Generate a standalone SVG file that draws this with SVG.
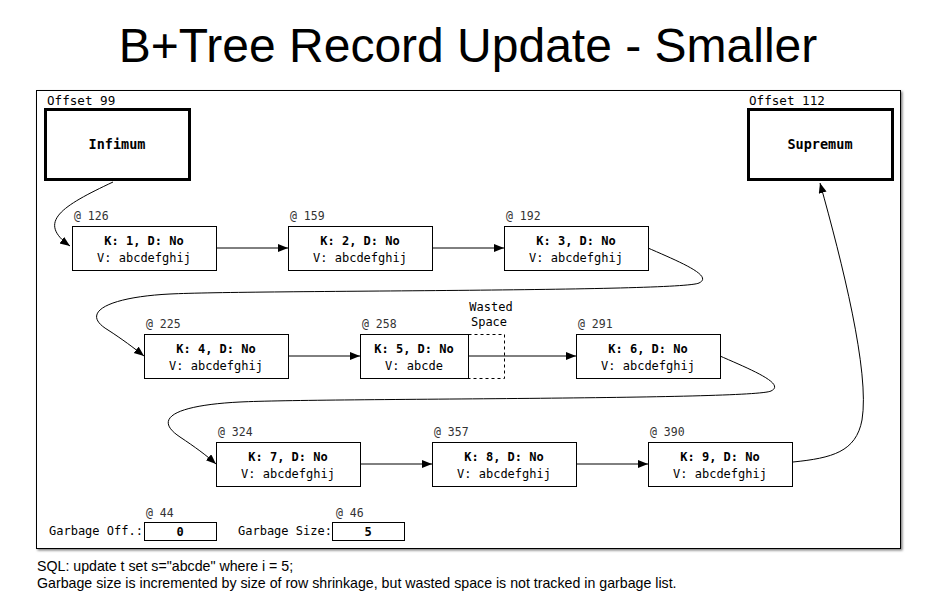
<svg xmlns="http://www.w3.org/2000/svg" width="936" height="607" viewBox="0 0 936 607">
<style>
.mono{font-family:"DejaVu Sans Mono","Liberation Mono",monospace;font-size:12px;fill:#000}
.b{font-weight:bold}
.at{font-family:"DejaVu Sans Mono","Liberation Mono",monospace;font-size:11.5px;fill:#333}
.box{fill:#fff;stroke:#000;stroke-width:1}
.thick{fill:#fff;stroke:#000;stroke-width:3}
.edge{fill:none;stroke:#000;stroke-width:1;marker-end:url(#arr)}
.sans{font-family:"Liberation Sans",Arial,Helvetica,sans-serif;fill:#000}
.big{font-size:13.5px}
.off{font-size:12.6px}
</style>
<defs>
<marker id="arr" markerUnits="userSpaceOnUse" markerWidth="12" markerHeight="10" refX="10" refY="4" orient="auto">
<path d="M0,0 L10,4 L0,8 Z" fill="#000"/>
</marker>
<filter id="sh" x="-5%" y="-5%" width="110%" height="110%">
<feDropShadow dx="1.5" dy="1.5" stdDeviation="1" flood-color="#000" flood-opacity="0.5"/>
</filter>
</defs>
<rect width="936" height="607" fill="#fff"/>
<text class="sans" x="468" y="62" font-size="48" text-anchor="middle">B+Tree Record Update - Smaller</text>
<g id="frame">
<rect x="36.5" y="90.5" width="864" height="458" fill="#fff" stroke="#000" stroke-width="1" filter="url(#sh)"/>
</g>
<g id="connectors">
<path class="edge" d="M113,182 C 62,206 36,222 70,246"/>
<path class="edge" d="M216,248 L288,248"/>
<path class="edge" d="M432,248 L504,248"/>
<path class="edge" d="M648,248 C 680,262 714,276 699,283 C 682,292 250,290 170,294 C 110,297 78,312 108,330 C 122,339 134,348 144,356"/>
<path class="edge" d="M288,356 L360,356"/>
<path class="edge" d="M469,356 L576,356"/>
<path class="edge" d="M720,356 C 752,370 786,384 771,391 C 754,400 320,398 240,402 C 180,405 150,417 180,437 C 195,447 206,455 216,464"/>
<path class="edge" d="M360,464 L432,464"/>
<path class="edge" d="M576,464 L648,464"/>
<path class="edge" d="M793,462 C 832,458 856,452 862,420 C 870,372 842,262 820,183"/>
</g>
<g id="infimum">
<text class="mono off" x="47" y="105">Offset 99</text>
<rect class="thick" x="45.5" y="109.5" width="144" height="70"/>
<text class="mono b big" x="117" y="149" text-anchor="middle">Infimum</text>
</g>
<g id="supremum">
<text class="mono off" x="749" y="105">Offset 112</text>
<rect class="thick" x="748.5" y="109.5" width="144" height="70"/>
<text class="mono b big" x="820" y="149" text-anchor="middle">Supremum</text>
</g>
<g id="r1">
<text class="at" x="74" y="220">@ 126</text>
<rect class="box" x="72.5" y="226.5" width="144" height="44"/>
<text class="mono b" x="144" y="245" text-anchor="middle">K: 1, D: No</text>
<text class="mono" x="144" y="262" text-anchor="middle">V: abcdefghij</text>
</g>
<g id="r2">
<text class="at" x="290" y="220">@ 159</text>
<rect class="box" x="288.5" y="226.5" width="144" height="44"/>
<text class="mono b" x="360" y="245" text-anchor="middle">K: 2, D: No</text>
<text class="mono" x="360" y="262" text-anchor="middle">V: abcdefghij</text>
</g>
<g id="r3">
<text class="at" x="506" y="220">@ 192</text>
<rect class="box" x="504.5" y="226.5" width="144" height="44"/>
<text class="mono b" x="576" y="245" text-anchor="middle">K: 3, D: No</text>
<text class="mono" x="576" y="262" text-anchor="middle">V: abcdefghij</text>
</g>
<g id="r4">
<text class="at" x="146" y="328">@ 225</text>
<rect class="box" x="144.5" y="334.5" width="144" height="44"/>
<text class="mono b" x="216" y="353" text-anchor="middle">K: 4, D: No</text>
<text class="mono" x="216" y="370" text-anchor="middle">V: abcdefghij</text>
</g>
<g id="wasted">
<text class="mono" x="491" y="311" text-anchor="middle">Wasted</text>
<text class="mono" x="489" y="326" text-anchor="middle">Space</text>
<rect x="468.5" y="334.5" width="36" height="44" fill="none" stroke="#000" stroke-width="1" stroke-dasharray="3,3"/>
</g>
<g id="r5">
<text class="at" x="362" y="328">@ 258</text>
<rect class="box" x="360.5" y="334.5" width="108" height="44"/>
<text class="mono b" x="414" y="353" text-anchor="middle">K: 5, D: No</text>
<text class="mono" x="414" y="370" text-anchor="middle">V: abcde</text>
</g>
<g id="r6">
<text class="at" x="578" y="328">@ 291</text>
<rect class="box" x="576.5" y="334.5" width="144" height="44"/>
<text class="mono b" x="648" y="353" text-anchor="middle">K: 6, D: No</text>
<text class="mono" x="648" y="370" text-anchor="middle">V: abcdefghij</text>
</g>
<g id="r7">
<text class="at" x="218" y="436">@ 324</text>
<rect class="box" x="216.5" y="442.5" width="144" height="44"/>
<text class="mono b" x="288" y="461" text-anchor="middle">K: 7, D: No</text>
<text class="mono" x="288" y="478" text-anchor="middle">V: abcdefghij</text>
</g>
<g id="r8">
<text class="at" x="434" y="436">@ 357</text>
<rect class="box" x="432.5" y="442.5" width="144" height="44"/>
<text class="mono b" x="504" y="461" text-anchor="middle">K: 8, D: No</text>
<text class="mono" x="504" y="478" text-anchor="middle">V: abcdefghij</text>
</g>
<g id="r9">
<text class="at" x="650" y="436">@ 390</text>
<rect class="box" x="648.5" y="442.5" width="144" height="44"/>
<text class="mono b" x="720" y="461" text-anchor="middle">K: 9, D: No</text>
<text class="mono" x="720" y="478" text-anchor="middle">V: abcdefghij</text>
</g>
<g id="garbage-off">
<text class="at" x="146" y="517">@ 44</text>
<text class="mono" x="49" y="535">Garbage Off.:</text>
<rect class="box" x="144.5" y="522.5" width="72" height="18"/>
<text class="mono b" x="180" y="536" text-anchor="middle">0</text>
</g>
<g id="garbage-size">
<text class="at" x="336" y="517">@ 46</text>
<text class="mono" x="238" y="535">Garbage Size:</text>
<rect class="box" x="332.5" y="522.5" width="72" height="18"/>
<text class="mono b" x="368" y="536" text-anchor="middle">5</text>
</g>
<text class="sans" x="37" y="571" font-size="14.2">SQL: update t set s="abcde" where i = 5;</text>
<text class="sans" x="37" y="588" font-size="14.2">Garbage size is incremented by size of row shrinkage, but wasted space is not tracked in garbage list.</text>
</svg>
